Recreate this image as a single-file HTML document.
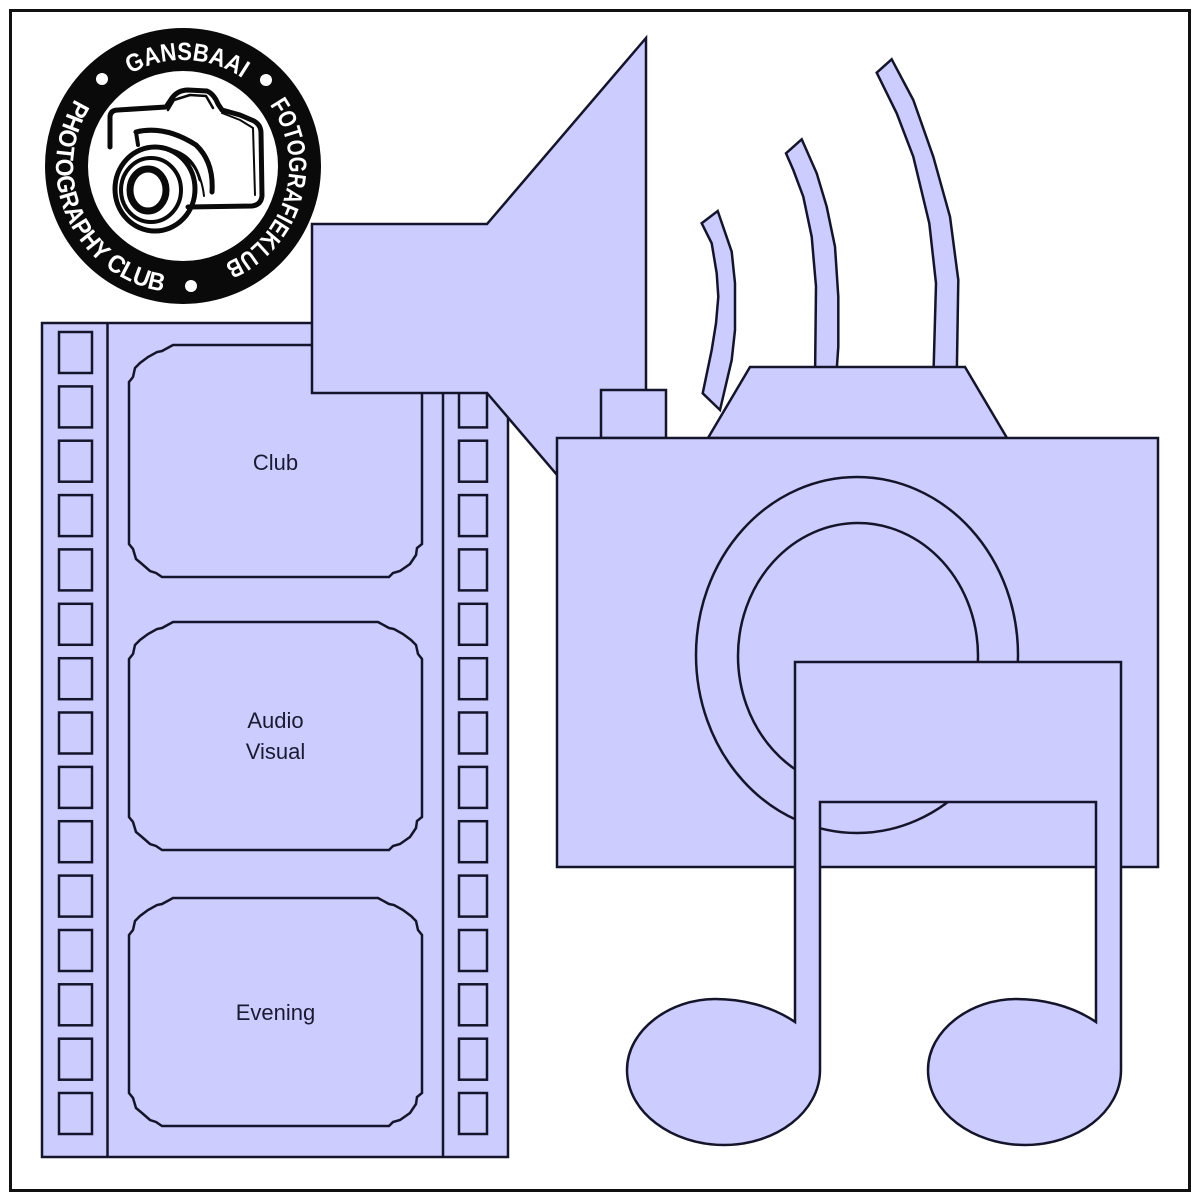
<!DOCTYPE html>
<html>
<head>
<meta charset="utf-8">
<style>
  html,body{margin:0;padding:0;background:#fff;}
  svg{display:block;}
</style>
</head>
<body>
<svg width="1199" height="1200" viewBox="0 0 1199 1200" xmlns="http://www.w3.org/2000/svg">
  <rect x="0" y="0" width="1199" height="1200" fill="#fff"/>
  <!-- outer frame -->
  <rect x="10.5" y="10.5" width="1179" height="1180" fill="none" stroke="#111" stroke-width="3"/>

  <!-- ===== LOGO ===== -->
  <g>
    <circle cx="183" cy="166" r="116.5" fill="#fff" stroke="#0a0a0a" stroke-width="43"/>
    <defs>
      <path id="cwTop" d="M 183,272 A 106 106 0 1 1 183,60 A 106 106 0 1 1 183,272"/>
      <path id="ccwLeft" d="M 183,39 A 127 127 0 1 0 183,293 A 127 127 0 1 0 183,39"/>
    </defs>
    <text font-family="Liberation Sans, sans-serif" font-weight="bold" font-size="25" fill="#fff" text-anchor="middle">
      <textPath href="#cwTop" startOffset="50.6%" textLength="118" lengthAdjust="spacingAndGlyphs">GANSBAAI</textPath>
    </text>
    <text font-family="Liberation Sans, sans-serif" font-weight="bold" font-size="25" fill="#fff" text-anchor="middle">
      <textPath href="#cwTop" startOffset="79.4%" textLength="189" lengthAdjust="spacingAndGlyphs">FOTOGRAFIEKLUB</textPath>
    </text>
    <text font-family="Liberation Sans, sans-serif" font-weight="bold" font-size="25" fill="#fff" text-anchor="middle">
      <textPath href="#ccwLeft" startOffset="31.8%" textLength="250" lengthAdjust="spacingAndGlyphs">PHOTOGRAPHY CLUB</textPath>
    </text>
    <circle cx="102" cy="79" r="6" fill="#fff"/>
    <circle cx="266" cy="80" r="6" fill="#fff"/>
    <circle cx="191" cy="286" r="6" fill="#fff"/>
    <!-- camera sketch -->
    <g fill="none" stroke="#0a0a0a" stroke-linecap="round" stroke-linejoin="round">
      <path d="M 110,147 L 110,116 Q 111,110 118,110 L 166,107 L 172,98 Q 178,90 188,90 L 207,91 Q 214,94 218,104 L 222,110 L 240,115 L 254,121 Q 261,125 261,133 L 262,196 Q 261,205 252,206 L 188,207" stroke-width="5"/>
      <path d="M 168,110 L 174,100 L 190,95 L 206,96 L 213,108" stroke-width="2.5"/>
      <path d="M 222,113 L 240,120 L 253,128 L 255,195" stroke-width="2"/>
      <path d="M 136,132 Q 165,125 196,145 Q 214,162 212,192" stroke-width="5"/>
      <path d="M 138,145 L 136,132" stroke-width="4"/>
      <ellipse cx="155" cy="189" rx="40" ry="42" stroke-width="5"/>
      <ellipse cx="151" cy="190" rx="30" ry="32" stroke-width="4"/>
      <ellipse cx="148" cy="190" rx="18" ry="21" stroke-width="7"/>
      <path d="M 160,148 Q 192,150 200,180" stroke-width="3"/>
      <path d="M 172,152 Q 200,160 204,196" stroke-width="2"/>
    </g>
  </g>

  <g stroke="#14142a" stroke-width="2.5" stroke-linejoin="miter" fill="#ccccff">
    <!-- ===== FILM STRIP ===== -->
    <rect x="42" y="323" width="466" height="834"/>
    <line x1="107.5" y1="323" x2="107.5" y2="1157"/>
    <line x1="443" y1="323" x2="443" y2="1157"/>
    <g>
      <rect x="59" y="332" width="33" height="41"/><rect x="459" y="332" width="28" height="41"/>
      <rect x="59" y="386.4" width="33" height="41"/><rect x="459" y="386.4" width="28" height="41"/>
      <rect x="59" y="440.7" width="33" height="41"/><rect x="459" y="440.7" width="28" height="41"/>
      <rect x="59" y="495.1" width="33" height="41"/><rect x="459" y="495.1" width="28" height="41"/>
      <rect x="59" y="549.4" width="33" height="41"/><rect x="459" y="549.4" width="28" height="41"/>
      <rect x="59" y="603.8" width="33" height="41"/><rect x="459" y="603.8" width="28" height="41"/>
      <rect x="59" y="658.2" width="33" height="41"/><rect x="459" y="658.2" width="28" height="41"/>
      <rect x="59" y="712.5" width="33" height="41"/><rect x="459" y="712.5" width="28" height="41"/>
      <rect x="59" y="766.9" width="33" height="41"/><rect x="459" y="766.9" width="28" height="41"/>
      <rect x="59" y="821.2" width="33" height="41"/><rect x="459" y="821.2" width="28" height="41"/>
      <rect x="59" y="875.6" width="33" height="41"/><rect x="459" y="875.6" width="28" height="41"/>
      <rect x="59" y="930" width="33" height="41"/><rect x="459" y="930" width="28" height="41"/>
      <rect x="59" y="984.3" width="33" height="41"/><rect x="459" y="984.3" width="28" height="41"/>
      <rect x="59" y="1038.7" width="33" height="41"/><rect x="459" y="1038.7" width="28" height="41"/>
      <rect x="59" y="1093" width="33" height="41"/><rect x="459" y="1093" width="28" height="41"/>
    </g>
    <!-- frames -->
    <path transform="translate(129,345)" d="M 0,37 L 4,32 L 6,23 L 11,18 L 19,12 L 28,7 L 33,6 L 44,0 L 249,0 L 260,6 L 265,7 L 274,12 L 282,18 L 287,23 L 289,32 L 293,37 L 293,199 L 288,203 L 287,210 L 281,219 L 271,226 L 264,228 L 260,232 L 33,232 L 27,228 L 21,226 L 13,219 L 7,214 L 4,204 L 0,199 Z"/>
    <path transform="translate(129,622)" d="M 0,37 L 4,32 L 6,23 L 11,18 L 19,12 L 28,7 L 33,6 L 44,0 L 249,0 L 260,6 L 265,7 L 274,12 L 282,18 L 287,23 L 289,32 L 293,37 L 293,195 L 288,199 L 287,206 L 281,215 L 271,222 L 264,224 L 260,228 L 33,228 L 27,224 L 21,222 L 13,215 L 7,210 L 4,200 L 0,195 Z"/>
    <path transform="translate(129,898)" d="M 0,37 L 4,32 L 6,23 L 11,18 L 19,12 L 28,7 L 33,6 L 44,0 L 249,0 L 260,6 L 265,7 L 274,12 L 282,18 L 287,23 L 289,32 L 293,37 L 293,195 L 288,199 L 287,206 L 281,215 L 271,222 L 264,224 L 260,228 L 33,228 L 27,224 L 21,222 L 13,215 L 7,210 L 4,200 L 0,195 Z"/>

    <!-- ===== MEGAPHONE ===== -->
    <polygon points="312,224 487,224 646,38 646,579 487,393 312,393"/>
    <rect x="601" y="390" width="65" height="48"/>

    <!-- ===== SOUND WAVES ===== -->
    <polygon points="717.7,211 731.7,251.7 735,283.3 735,330 731.7,360 720,410 702.7,393.3 711.7,350 716,323.3 718.3,296.7 716.7,273.3 711.7,243.3 701.7,223.3"/>
    <polygon points="801.7,139.3 816.7,173.3 826.7,206.7 835,246.7 838.3,296.7 838.3,346.7 836,380 815,380 816,286.7 811.7,236.7 803.3,196.7 793.3,170 786,153.3"/>
    <polygon points="891.7,59.3 913.3,100 933.3,156.7 950,216.7 958.3,280 956.7,380 933.3,380 936,283.3 929.3,223.3 913.3,156.7 896.7,113.3 876.7,72.7"/>
    <polygon points="750,367 965,367 1007,438 708,438"/>

    <!-- ===== CAMERA ===== -->
    <rect x="557" y="438" width="601" height="429"/>
    <ellipse cx="857" cy="655" rx="161" ry="178" fill="none"/>
    <ellipse cx="858" cy="656" rx="120" ry="133" fill="none"/>

    <!-- ===== MUSIC NOTE ===== -->
    <path d="M 795,662 L 1121,662 L 1121,1070
             C 1121,1112 1077,1145 1025,1145
             C 973,1145 928,1112 928,1070
             C 928,1030 971,999 1016,999
             C 1041,999 1071,1005 1096,1022
             L 1096,802 L 820,802 L 820,1070
             C 820,1112 776,1145 724,1145
             C 672,1145 627,1112 627,1070
             C 627,1030 670,999 715,999
             C 740,999 770,1005 795,1022 Z"/>
  </g>

  <!-- labels -->
  <g font-family="Liberation Sans, sans-serif" font-size="22" fill="#1a1a33" text-anchor="middle">
    <text x="275.5" y="470">Club</text>
    <text x="275.5" y="728">Audio</text>
    <text x="275.5" y="759">Visual</text>
    <text x="275.5" y="1020">Evening</text>
  </g>
</svg>
</body>
</html>
